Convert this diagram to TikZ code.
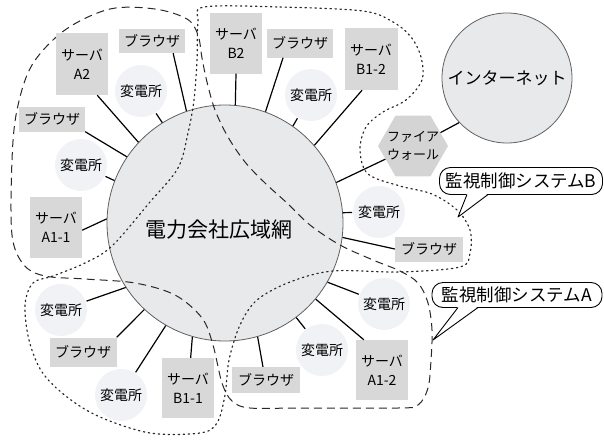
\documentclass[tikz,border=0pt]{standalone}
\usepackage{fontspec}
\setmainfont{Noto Sans CJK JP}
\usetikzlibrary{shapes.geometric}
\definecolor{boxgray}{RGB}{216,216,216}
\definecolor{subfill}{RGB}{240,242,245}
\definecolor{netfill}{RGB}{232,233,235}
\definecolor{fwgray}{RGB}{212,212,212}
\definecolor{edgegray}{RGB}{95,95,95}
\definecolor{regcol}{RGB}{40,40,40}
\begin{document}
\begin{tikzpicture}[x=1pt,y=-1pt,
  box/.style={fill=boxgray, inner sep=0pt, align=center, font=\fontsize{14}{19}\selectfont},
  srv/.style={box, minimum width=52pt, minimum height=61pt},
  brw/.style={box, minimum width=66pt},
  sub/.style={circle, fill=subfill, minimum size=52pt, inner sep=0pt, outer sep=1pt, font=\fontsize{14}{16}\selectfont},
  link/.style={line width=1.2pt, black},
  regA/.style={regcol, line width=1pt, dash pattern=on 8pt off 5pt},
  regB/.style={regcol, line width=1.2pt, dash pattern=on 1.4pt off 3.6pt, line cap=round},
  netw/.style={circle, draw=edgegray, line width=0.8pt, fill=netfill, inner sep=0pt},
  callout/.style={draw=black, line width=0.9pt, fill=white, rounded corners=11pt, inner sep=0pt, outer sep=0pt, font=\fontsize{17.5}{20}\selectfont},
]
\useasboundingbox (0,0) rectangle (604,442);

% networks
\node[netw, minimum size=236pt,
  label={[font=\fontsize{21}{24}\selectfont, xshift=-6pt, yshift=-7pt]center:電力会社広域網}] (main) at (225,223) {};
\node[netw, minimum size=130pt, font=\fontsize{17}{20}\selectfont] (inet) at (507,78) {インターネット};

% monitoring regions
\draw[regA] plot[smooth cycle, tension=0.55] coordinates {
  (12,235) (12,160) (17,110) (32,65) (65,30) (110,9) (155,9) (187,19) (198,35)
  (202,58) (207,82) (215,110) (228,137) (245,162) (265,183) (287,203) (310,225)
  (340,245) (373,260) (400,271) (418,283) (428,303) (432,330) (431,360) (428,388)
  (418,405) (398,408) (300,408) (250,408) (232,401) (222,383) (213,345) (202,318)
  (175,295) (135,283) (85,279) (45,276) (24,265)};
\draw[regB] plot[smooth cycle, tension=0.55] coordinates {
  (204,7) (280,7) (363,11) (393,22) (411,37) (421,57) (422,80) (406,100) (383,112)
  (366,127) (360,150) (368,174) (400,186) (432,194) (457,210) (470,230) (470,253)
  (460,267) (400,272) (333,271) (290,282) (257,300) (240,325) (229,360) (225,395)
  (217,423) (200,433) (150,433) (100,417) (67,397) (42,372) (29,340) (25,305)
  (33,283) (53,276) (85,263) (112,246) (150,202) (178,168) (188,133) (194,100)
  (197,60) (198,22)};

% devices
\node[brw, minimum height=24pt] (brAt) at (152,41) {ブラウザ};
\node[srv, minimum height=62pt] (svA2) at (82,64) {サーバ\\A2};
\node[sub] (subAt) at (141,91) {変電所};
\node[brw, minimum height=25pt] (brAl) at (52,119) {ブラウザ};
\node[sub] (subAl) at (81,165) {変電所};
\node[srv] (svA11) at (56,227) {サーバ\\A1-1};
\node[sub] (subBl1) at (61,310) {変電所};
\node[brw, minimum width=67pt, minimum height=29pt] (brBl) at (83,352) {ブラウザ};
\node[sub] (subBl2) at (121,395) {変電所};
\node[srv, minimum height=60pt] (svB11) at (188,388) {サーバ\\B1-1};
\node[brw, minimum width=68pt, minimum height=26pt] (brAbr) at (266,380) {ブラウザ};
\node[sub] (subAbr1) at (322,350) {変電所};
\node[srv, minimum height=60pt] (svA12) at (382,370) {サーバ\\A1-2};
\node[sub] (subAbr2) at (384,304) {変電所};
\node[srv] (svB2) at (236,43) {サーバ\\B2};
\node[brw, minimum height=29pt] (brBt) at (300,43) {ブラウザ};
\node[sub] (subBt) at (311,95) {変電所};
\node[srv, minimum width=53pt, minimum height=62pt] (svB12) at (371,59) {サーバ\\B1-2};
\node[regular polygon, regular polygon sides=6, minimum size=70pt, fill=fwgray, inner sep=0pt,
  label={[font=\fontsize{13}{18}\selectfont, align=center]center:ファイア\\ウォール}] (fw) at (413,146) {};
\node[sub] (subR) at (379,212) {変電所};
\node[brw, minimum width=68pt, minimum height=25pt] (brR) at (429,249) {ブラウザ};

% connections
\draw[link] (main.109) -- (brAt.-30);
\draw[link] (main.137) -- (svA2.-64);
\draw[link] (main.122) -- (subAt);
\draw[link] (main.146) -- (brAl.south east);
\draw[link] (main.159) -- (subAl);
\draw[link] (main.178) -- (svA11.-7);
\draw[link] (main.-147) -- (subBl1);
\draw[link] (main.-133) -- (brBl.north east);
\draw[link] (main.-120) -- (subBl2);
\draw[link] (main.-106) -- (svB11.85);
\draw[link] (main.-74) -- (brAbr.103);
\draw[link] (main.-53) -- (subAbr1);
\draw[link] (main.-40) -- (svA12.121);
\draw[link] (main.-30) -- (subAbr2);
\draw[link] (main.85) -- (svB2.south);
\draw[link] (main.70) -- (brBt.-139);
\draw[link] (main.55) -- (subBt);
\draw[link] (main.41) -- (svB12.-106);
\draw[link] (main.20) -- (fw);
\draw[link] (fw.26) -- (inet.-137);
\draw[link] (main.5) -- (subR);
\draw[link] (main.-7) -- (brR.west);

% callouts
\node[callout, minimum width=163pt, minimum height=27pt] (calB) at (521,181) {監視制御システムB};
\coordinate (tipB) at (458,217);
\fill[white] ([xshift=-54pt,yshift=1pt]calB.south) -- (tipB) -- ([xshift=-33pt,yshift=1pt]calB.south) -- cycle;
\draw[line width=0.9pt, line join=round] ([xshift=-54pt]calB.south) -- (tipB) -- ([xshift=-33pt]calB.south);

\node[callout, minimum width=170pt, minimum height=25pt] (calA) at (517,295) {監視制御システムA};
\coordinate (tipA) at (433,340);
\fill[white] ([xshift=-59pt,yshift=1pt]calA.south) -- (tipA) -- ([xshift=-39pt,yshift=1pt]calA.south) -- cycle;
\draw[line width=0.9pt, line join=round] ([xshift=-59pt]calA.south) -- (tipA) -- ([xshift=-39pt]calA.south);
\end{tikzpicture}
\end{document}
